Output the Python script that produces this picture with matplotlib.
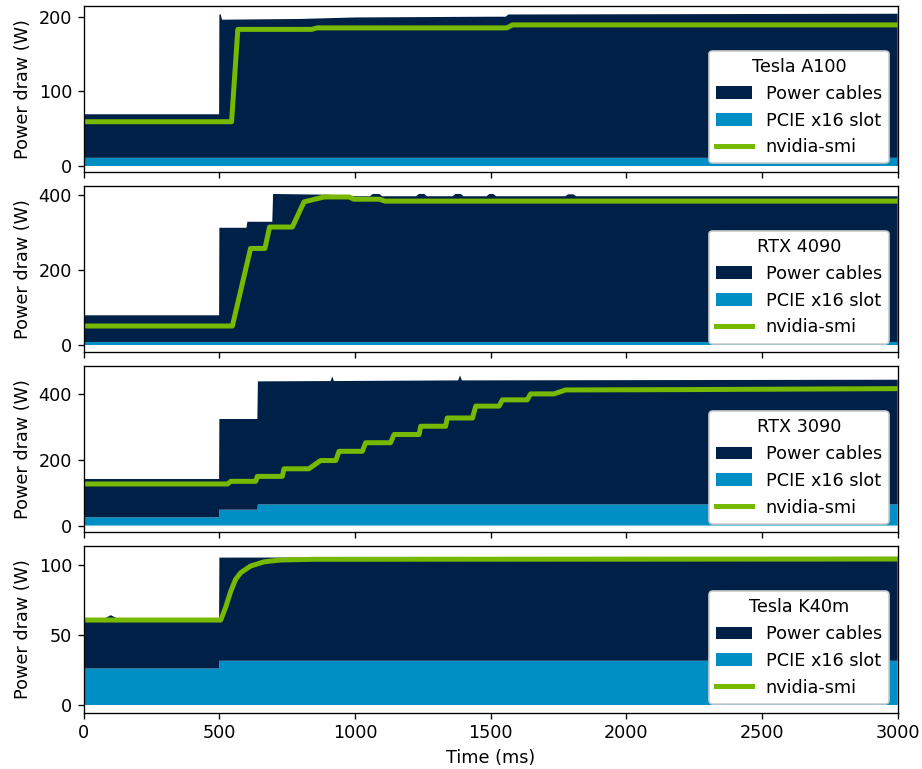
import numpy as np
import matplotlib
matplotlib.use('Agg')
from matplotlib import pyplot as plt

plt.rcParams['font.size'] = 10.6

gpus = ['Tesla A100', 'RTX 4090', 'RTX 3090', 'Tesla K40m']

# measured power (W): time (ms), PCIe slot and total (slot + cables)
a100_t = [0, 499, 500, 505, 510, 800, 1000, 1500, 1555, 1565, 3000]
a100_total = [69, 69, 203, 203, 196, 197, 199, 200, 200, 203, 204]
a100_pcie = [10.5, 10.5, 10.5, 10.5, 10.5, 10.5, 10.5, 10.5, 10.5, 10.5, 10.5]

rtx4090_t = [0, 499, 500, 600, 603, 695, 698, 900, 1000,
             1055, 1065, 1090, 1100, 1225, 1235, 1255, 1265, 1360, 1370, 1390, 1400,
             1485, 1495, 1510, 1520, 1775, 1785, 1805, 1815, 3000]
rtx4090_total = [80, 80, 313, 313, 329, 329, 403, 401, 397,
                 397, 403, 403, 397, 397, 403, 403, 397, 397, 403, 403, 397,
                 397, 403, 403, 397, 397, 402, 402, 397, 397]
rtx4090_pcie = [9] * 30

rtx3090_t = [0, 499, 500, 640, 642, 910, 916, 922, 1380, 1387, 1394, 3000]
rtx3090_total = [141, 141, 323, 323, 437, 438, 452, 438, 440, 455, 440, 442]
rtx3090_pcie = [25, 25, 48, 48, 64, 64, 64, 64, 64, 64, 64, 64]

k40_t = [0, 80, 100, 120, 499, 500, 3000]
k40_total = [62, 62, 64, 62, 62, 105, 105.5]
k40_pcie = [26, 26, 26, 26, 26, 31.5, 31.5]

# nvidia-smi readings
a100_smi_t = [0, 545, 568, 840, 860, 1560, 1580, 3000]
a100_smi = [59, 59, 183, 183, 185, 185, 189, 189]

rtx4090_smi_t = [0, 548, 615, 668, 685, 769, 812, 886, 978, 996, 1090, 1110, 3000]
rtx4090_smi = [51.5, 51.5, 258, 258, 315, 315, 382, 395, 395, 389, 389, 384, 384]

rtx3090_smi_t = [0, 530, 542, 634, 640, 732, 738, 830, 873, 929, 941, 1027, 1039, 1131,
                 1144, 1236, 1242, 1334, 1340, 1433, 1445, 1531, 1543, 1635, 1647, 1733,
                 1776, 2200, 3000]
rtx3090_smi = [126, 126, 134, 134, 149, 149, 172, 172, 197, 197, 225, 225, 251, 251,
               276, 276, 301, 301, 326, 326, 362, 362, 381, 381, 399, 399, 411, 412, 415]

k40_smi_t = [0, 505, 523, 542, 560, 579, 615, 665, 726, 849, 3000]
k40_smi = [60.5, 60.5, 69.5, 81, 89.6, 94.3, 99, 102, 103.3, 103.8, 104]

measured = [(a100_t, a100_pcie, a100_total), (rtx4090_t, rtx4090_pcie, rtx4090_total),
            (rtx3090_t, rtx3090_pcie, rtx3090_total), (k40_t, k40_pcie, k40_total)]
smi = [(a100_smi_t, a100_smi), (rtx4090_smi_t, rtx4090_smi),
       (rtx3090_smi_t, rtx3090_smi), (k40_smi_t, k40_smi)]
ylims = [(-8.9, 214.8), (-18.7, 424.8), (-21, 484), (-5.4, 113.3)]
yticks = [[0, 100, 200], [0, 200, 400], [0, 200, 400], [0, 50, 100]]

navy = '#002147'
blue = '#008fc5'
green = '#76b900'

fig, axes = plt.subplots(4, 1, sharex=True, figsize=(922 / 120, 769 / 120), dpi=120)
fig.subplots_adjust(left=0.0908, right=0.9736, top=0.9926, bottom=0.0734, hspace=0.081)

for ax, name, (t, pcie, total), (st, sp), yl, yt in zip(axes, gpus, measured, smi, ylims, yticks):
    pcie = np.array(pcie, dtype=float)
    cables = np.array(total, dtype=float) - pcie
    polys = ax.stackplot(t, pcie, cables, colors=[blue, navy], linewidth=0)
    line, = ax.plot(st, sp, color=green, lw=3)
    ax.set_ylim(*yl)
    ax.set_yticks(yt)
    ax.set_ylabel('Power draw (W)')
    ax.legend([polys[1], polys[0], line], ['Power cables', 'PCIE x16 slot', 'nvidia-smi'],
              title=name, loc='lower right', framealpha=1)

axes[-1].set_xlim(0, 3000)
axes[-1].set_xlabel('Time (ms)')
fig.align_ylabels(axes)

plt.savefig('out.png', dpi=120)
